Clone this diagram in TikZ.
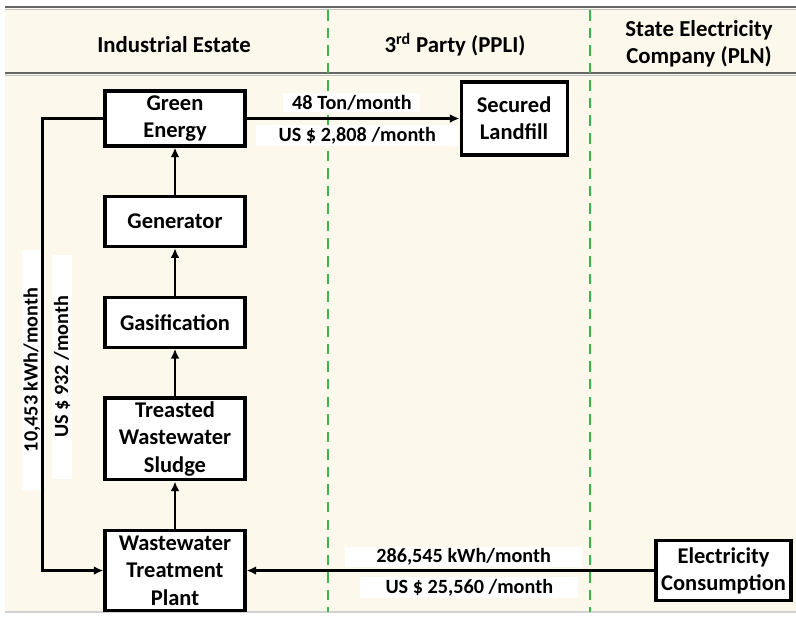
\documentclass[tikz,border=0pt]{standalone}
\usepackage{fontspec}
\setmainfont{Carlito}
\usetikzlibrary{positioning, arrows.meta}

\definecolor{creamBg}{HTML}{FCF8EC}
\definecolor{laneGreen}{HTML}{3CB44B}

\begin{document}
\begin{tikzpicture}[
		x=0.02cm, y=-0.02cm,
		node distance=0.95cm and 4cm,
		box/.style={rectangle, draw, line width=1.8pt, fill=white, minimum width=2.8cm, minimum height=1cm, inner sep=1pt, align=center, font=\bfseries\fontsize{12.8}{15.5}\selectfont},
		flow/.style={line width=1.5pt, -{Latex[length=5.5pt, width=5pt]}},
		tag/.style={fill=white, inner xsep=2pt, inner ysep=1pt, font=\bfseries\fontsize{11.5}{13}\selectfont},
		head/.style={align=center, font=\bfseries\fontsize{13}{15.5}\selectfont},
		lane/.style={laneGreen, line width=1.2pt, dash pattern=on 6pt off 4pt}
		]
		
		% Frame and lanes
		\useasboundingbox (0,0) rectangle (796,621);
		\fill[white] (0,0) rectangle (796,621);
		\fill[creamBg] (5,7) rectangle (796,612);
		\draw[gray!80!black, line width=1.5pt] (5,7) -- (796,7);
		\draw[gray!50, line width=0.8pt] (5,9.5) -- (796,9.5);
		\draw[gray!80!black, line width=1.5pt] (5,73) -- (796,73);
		\draw[gray!50, line width=0.8pt] (5,75.5) -- (796,75.5);
		\draw[gray!35, line width=1pt] (5,612) -- (796,612);
		\draw[lane] (328,10) -- (328,612);
		\draw[lane] (590,10) -- (590,612);
		
		% Headers
		\node[head] (hIndustry) at (174,45) {Industrial Estate};
		\node[head] (hParty) at (455,45) {3\textsuperscript{rd} Party (PPLI)};
		\node[head] (hState) at (699,44) {State Electricity\\Company (PLN)};
		
		% Nodes
		\node[box, minimum height=1.1cm] (energy) at (175,118.5) {Green\\Energy};
		\node[box, below=of energy] (generator) {Generator};
		\node[box, below=of generator] (gasify) {Gasification};
		\node[box, minimum height=1.64cm, below=of gasify] (sludge) {Treasted\\Wastewater\\Sludge};
		\node[box, minimum height=1.6cm, below=of sludge] (wwtp) {Wastewater\\Treatment\\Plant};
		\node[box, minimum width=2.12cm, minimum height=1.46cm, right=4.26cm of energy] (landfill) {Secured\\Landfill};
		\node[box, minimum width=2.7cm, minimum height=1.2cm, right=8.16cm of wwtp] (consume) {Electricity\\Consumption};
		
		% Labels of the loop
		\node[tag, rotate=90, minimum width=4.8cm] (kwhTag) at (32,370) {10,453 kWh/month};
		\node[tag, rotate=90, minimum width=4.5cm] (usdTag) at (62,367) {US \$ 932 /month};
		
		% Edges
		\draw[flow] (wwtp) -- (sludge);
		\draw[flow] (sludge) -- (gasify);
		\draw[flow] (gasify) -- (generator);
		\draw[flow] (generator) -- (energy);
		\draw[flow] (energy.west) -- ++(-61,0) |- (wwtp.west);
		\draw[flow] (energy) -- (landfill)
			node[tag, pos=0.495, above=3pt, minimum width=2.74cm] (tonTag) {48 Ton/month}
			node[tag, pos=0.52, below=3pt, minimum width=4.04cm] (costTag) {US \$ 2,808 /month};
		\draw[flow] (consume) -- (wwtp)
			node[tag, pos=0.468, above=1pt, minimum width=4.74cm] (gridTag) {286,545 kWh/month}
			node[tag, pos=0.454, below=3pt, minimum width=4.36cm] (billTag) {US \$ 25,560 /month};
		
	\end{tikzpicture}
\end{document}
